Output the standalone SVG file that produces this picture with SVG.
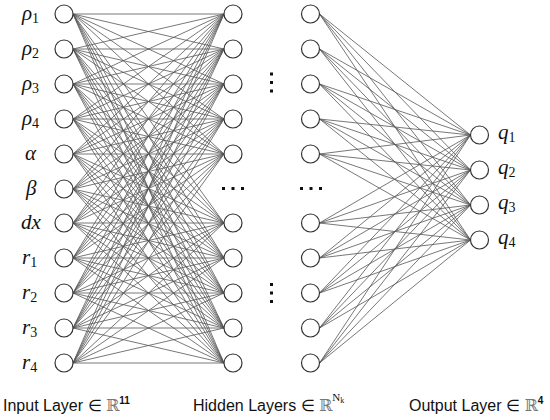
<svg xmlns="http://www.w3.org/2000/svg" width="550" height="420" viewBox="0 0 550 420">
<style>
.c{fill:#fff;stroke:#333;stroke-width:1.2}
.e{fill:none;stroke:#555;stroke-width:0.8}
.m{font-family:"Liberation Serif","DejaVu Serif",serif;font-style:italic;font-size:21px;fill:#111}
.s{font-size:14px;font-style:normal}
.b{font-family:"Liberation Sans",Arial,sans-serif;font-size:16px;fill:#111}
.r{font-family:"DejaVu Serif",serif;fill:#777}
.d{fill:#111}
</style>
<rect width="550" height="420" fill="#fff"/>
<g id="connectors">
<path class="e" d="M73 14L224 14M73 14L224 49M73 14L224 84M73 14L224 119M73 14L224 154M73 14L224 223M73 14L224 258M73 14L224 293M73 14L224 328M73 14L224 363"/>
<path class="e" d="M73 49L224 14M73 49L224 49M73 49L224 84M73 49L224 119M73 49L224 154M73 49L224 223M73 49L224 258M73 49L224 293M73 49L224 328M73 49L224 363"/>
<path class="e" d="M73 84L224 14M73 84L224 49M73 84L224 84M73 84L224 119M73 84L224 154M73 84L224 223M73 84L224 258M73 84L224 293M73 84L224 328M73 84L224 363"/>
<path class="e" d="M73 119L224 14M73 119L224 49M73 119L224 84M73 119L224 119M73 119L224 154M73 119L224 223M73 119L224 258M73 119L224 293M73 119L224 328M73 119L224 363"/>
<path class="e" d="M73 154L224 14M73 154L224 49M73 154L224 84M73 154L224 119M73 154L224 154M73 154L224 223M73 154L224 258M73 154L224 293M73 154L224 328M73 154L224 363"/>
<path class="e" d="M73 189L224 14M73 189L224 49M73 189L224 84M73 189L224 119M73 189L224 154M73 189L224 223M73 189L224 258M73 189L224 293M73 189L224 328M73 189L224 363"/>
<path class="e" d="M73 223L224 14M73 223L224 49M73 223L224 84M73 223L224 119M73 223L224 154M73 223L224 223M73 223L224 258M73 223L224 293M73 223L224 328M73 223L224 363"/>
<path class="e" d="M73 258L224 14M73 258L224 49M73 258L224 84M73 258L224 119M73 258L224 154M73 258L224 223M73 258L224 258M73 258L224 293M73 258L224 328M73 258L224 363"/>
<path class="e" d="M73 293L224 14M73 293L224 49M73 293L224 84M73 293L224 119M73 293L224 154M73 293L224 223M73 293L224 258M73 293L224 293M73 293L224 328M73 293L224 363"/>
<path class="e" d="M73 328L224 14M73 328L224 49M73 328L224 84M73 328L224 119M73 328L224 154M73 328L224 223M73 328L224 258M73 328L224 293M73 328L224 328M73 328L224 363"/>
<path class="e" d="M73 363L224 14M73 363L224 49M73 363L224 84M73 363L224 119M73 363L224 154M73 363L224 223M73 363L224 258M73 363L224 293M73 363L224 328M73 363L224 363"/>
<path class="e" d="M319.5 14L470.5 135M319.5 14L470.5 170M319.5 14L470.5 205M319.5 14L470.5 240
M319.5 49L470.5 135M319.5 49L470.5 170M319.5 49L470.5 205M319.5 49L470.5 240
M319.5 84L470.5 135M319.5 84L470.5 170M319.5 84L470.5 205M319.5 84L470.5 240
M319.5 119L470.5 135M319.5 119L470.5 170M319.5 119L470.5 205M319.5 119L470.5 240
M319.5 154L470.5 135M319.5 154L470.5 170M319.5 154L470.5 205M319.5 154L470.5 240
M319.5 223L470.5 135M319.5 223L470.5 170M319.5 223L470.5 205M319.5 223L470.5 240
M319.5 258L470.5 135M319.5 258L470.5 170M319.5 258L470.5 205M319.5 258L470.5 240
M319.5 293L470.5 135M319.5 293L470.5 170M319.5 293L470.5 205M319.5 293L470.5 240
M319.5 328L470.5 135M319.5 328L470.5 170M319.5 328L470.5 205M319.5 328L470.5 240
M319.5 363L470.5 135M319.5 363L470.5 170M319.5 363L470.5 205M319.5 363L470.5 240"/>
</g>
<g id="input-layer">
<circle class="c" cx="64" cy="14" r="9"/><circle class="c" cx="64" cy="49" r="9"/><circle class="c" cx="64" cy="84" r="9"/><circle class="c" cx="64" cy="119" r="9"/><circle class="c" cx="64" cy="154" r="9"/><circle class="c" cx="64" cy="189" r="9"/><circle class="c" cx="64" cy="223" r="9"/><circle class="c" cx="64" cy="258" r="9"/><circle class="c" cx="64" cy="293" r="9"/><circle class="c" cx="64" cy="328" r="9"/><circle class="c" cx="64" cy="363" r="9"/>
<text class="m" x="22" y="20">ρ<tspan class="s" dy="3">1</tspan></text>
<text class="m" x="22" y="55">ρ<tspan class="s" dy="3">2</tspan></text>
<text class="m" x="22" y="90">ρ<tspan class="s" dy="3">3</tspan></text>
<text class="m" x="22" y="125">ρ<tspan class="s" dy="3">4</tspan></text>
<text class="m" x="25" y="160">α</text>
<text class="m" x="26" y="195">β</text>
<text class="m" x="21" y="229">dx</text>
<text class="m" x="22" y="264">r<tspan class="s" dy="3">1</tspan></text>
<text class="m" x="22" y="299">r<tspan class="s" dy="3">2</tspan></text>
<text class="m" x="22" y="334">r<tspan class="s" dy="3">3</tspan></text>
<text class="m" x="22" y="369">r<tspan class="s" dy="3">4</tspan></text>
</g>
<g id="hidden-layer-1">
<circle class="c" cx="233" cy="14" r="9"/><circle class="c" cx="233" cy="49" r="9"/><circle class="c" cx="233" cy="84" r="9"/><circle class="c" cx="233" cy="119" r="9"/><circle class="c" cx="233" cy="154" r="9"/><circle class="c" cx="233" cy="223" r="9"/><circle class="c" cx="233" cy="258" r="9"/><circle class="c" cx="233" cy="293" r="9"/><circle class="c" cx="233" cy="328" r="9"/><circle class="c" cx="233" cy="363" r="9"/>
<rect class="d" x="222" y="187" width="3" height="3"/><rect class="d" x="231.5" y="187" width="3" height="3"/><rect class="d" x="241" y="187" width="3" height="3"/>
</g>
<g id="hidden-dots">
<rect class="d" x="270" y="72.5" width="3" height="3"/><rect class="d" x="270" y="81" width="3" height="3"/><rect class="d" x="270" y="89.5" width="3" height="3"/>
<rect class="d" x="270" y="283" width="3" height="3"/><rect class="d" x="270" y="291.5" width="3" height="3"/><rect class="d" x="270" y="300" width="3" height="3"/>
</g>
<g id="hidden-layer-2">
<circle class="c" cx="310.5" cy="14" r="9"/><circle class="c" cx="310.5" cy="49" r="9"/><circle class="c" cx="310.5" cy="84" r="9"/><circle class="c" cx="310.5" cy="119" r="9"/><circle class="c" cx="310.5" cy="154" r="9"/><circle class="c" cx="310.5" cy="223" r="9"/><circle class="c" cx="310.5" cy="258" r="9"/><circle class="c" cx="310.5" cy="293" r="9"/><circle class="c" cx="310.5" cy="328" r="9"/><circle class="c" cx="310.5" cy="363" r="9"/>
<rect class="d" x="300" y="187" width="3" height="3"/><rect class="d" x="309.5" y="187" width="3" height="3"/><rect class="d" x="319" y="187" width="3" height="3"/>
</g>
<g id="output-layer">
<circle class="c" cx="479.5" cy="135" r="9"/><circle class="c" cx="479.5" cy="170" r="9"/><circle class="c" cx="479.5" cy="205" r="9"/><circle class="c" cx="479.5" cy="240" r="9"/>
<text class="m" x="498" y="139">q<tspan class="s" dy="3">1</tspan></text>
<text class="m" x="498" y="174">q<tspan class="s" dy="3">2</tspan></text>
<text class="m" x="498" y="209">q<tspan class="s" dy="3">3</tspan></text>
<text class="m" x="498" y="244">q<tspan class="s" dy="3">4</tspan></text>
</g>
<g id="captions">
<text class="b" x="3" y="411">Input Layer ∈ <tspan class="r">ℝ</tspan><tspan font-size="10" font-weight="bold" dy="-7">11</tspan></text>
<text class="b" x="193" y="411">Hidden Layers ∈ <tspan class="r">ℝ</tspan><tspan font-size="11" font-family="Liberation Serif" dy="-10">N</tspan><tspan font-size="8" font-family="Liberation Serif" dy="2">k</tspan></text>
<text class="b" x="409" y="411">Output Layer ∈ <tspan class="r">ℝ</tspan><tspan font-size="10" font-weight="bold" dy="-7">4</tspan></text>
</g>
</svg>
